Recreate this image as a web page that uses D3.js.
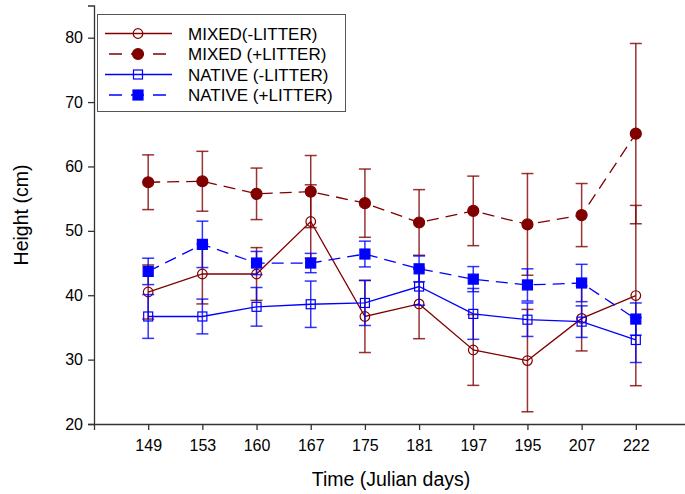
<!DOCTYPE html>
<meta charset='utf-8'>
<style>
  body { margin: 0; background: #fff; }
  text { font-family: "Liberation Sans", Arial, sans-serif; fill: #000; }
  .axis path, .axis line { stroke: #333; stroke-width: 1.3; }
  .axis text { font-size: 16px; }
</style>
<svg width="685" height="494"></svg>
<script src="https://d3js.org/d3.v7.min.js"></script>
<script>

// ---- data ----
var days = ["149", "153", "160", "167", "175", "181", "197", "195", "207", "222"];

var mixedMinus     = [40.5, 43.3, 43.3, 51.45, 36.7, 38.65, 31.5, 29.85, 36.4, 39.95];
var mixedMinusErr  = [4.2, 4.65, 4.1, 5.7, 5.6, 5.4, 5.5, 7.95, 5.05, 14.0];
var mixedPlus      = [57.55, 57.7, 55.75, 56.1, 54.3, 51.3, 53.1, 51.0, 52.45, 65.1];
var mixedPlusErr   = [4.25, 4.65, 4.0, 5.6, 5.3, 5.1, 5.4, 7.9, 4.9, 14.0];
var nativeMinus    = [36.7, 36.7, 38.2, 38.6, 38.8, 41.35, 37.1, 36.2, 35.9, 33.05];
var nativeMinusErr = [3.4, 2.7, 3.0, 3.6, 3.5, 2.9, 3.95, 2.6, 2.45, 3.5];
var nativePlus     = [43.7, 47.9, 45.0, 45.0, 46.4, 44.1, 42.5, 41.6, 41.9, 36.3];
var nativePlusErr  = [2.05, 3.6, 1.8, 1.5, 2.0, 2.0, 1.95, 2.5, 2.9, 2.5];

var yTicks = [20, 30, 40, 50, 60, 70, 80];

var series = [
  {name: "MIXED(-LITTER)",   vals: mixedMinus,  err: mixedMinusErr,  color: "#800000", dash: null,   marker: "circle", filled: false},
  {name: "MIXED (+LITTER)",  vals: mixedPlus,   err: mixedPlusErr,   color: "#800000", dash: "12,7", marker: "circle", filled: true},
  {name: "NATIVE (-LITTER)", vals: nativeMinus, err: nativeMinusErr, color: "#0000ff", dash: null,   marker: "square", filled: false},
  {name: "NATIVE (+LITTER)", vals: nativePlus,  err: nativePlusErr,  color: "#0000ff", dash: "12,7", marker: "square", filled: true}
];

var svg = d3.select("svg");

var x = d3.scalePoint().domain(days).range([94, 690]).padding(1);
var y = d3.scaleLinear().domain([20, 85]).range([424, 5.5]);

// axes
svg.append("g")
  .attr("class", "axis")
  .attr("transform", "translate(0,424)")
  .call(d3.axisBottom(x).tickSizeOuter(0).tickSize(6).tickPadding(10));

svg.append("g")
  .attr("class", "axis")
  .attr("transform", "translate(94,0)")
  .call(d3.axisLeft(y).tickValues(yTicks).tickSizeOuter(0).tickSize(6).tickPadding(5));

// axis titles
svg.append("text")
  .attr("x", 391).attr("y", 486)
  .attr("text-anchor", "middle")
  .style("font-size", "19.5px")
  .text("Time (Julian days)");

svg.append("text")
  .attr("transform", "translate(28,215) rotate(-90)")
  .attr("text-anchor", "middle")
  .style("font-size", "19.5px")
  .text("Height (cm)");

function drawMarker(g, s, cx, cy) {
  if (s.marker === "circle") {
    g.append("circle")
      .attr("cx", cx).attr("cy", cy)
      .attr("r", s.filled ? 5.5 : 4.8)
      .attr("fill", s.filled ? s.color : "none")
      .attr("stroke", s.color)
      .attr("stroke-width", 1.2);
  } else {
    var h = s.filled ? 5 : 4.5;
    g.append("rect")
      .attr("x", cx - h).attr("y", cy - h)
      .attr("width", 2 * h).attr("height", 2 * h)
      .attr("fill", s.filled ? s.color : "none")
      .attr("stroke", s.color)
      .attr("stroke-width", 1.2);
  }
}

var line = d3.line()
  .x(function(d, i) { return x(days[i]); })
  .y(function(d) { return y(d); });

series.forEach(function(s) {
  var g = svg.append("g");

  // error bars
  s.vals.forEach(function(v, i) {
    var cx = x(days[i]), hi = y(v + s.err[i]), lo = y(v - s.err[i]);
    var eb = g.append("g")
      .attr("stroke", s.color)
      .attr("stroke-width", 1.5)
      .attr("stroke-opacity", 0.8);
    eb.append("line").attr("x1", cx).attr("x2", cx).attr("y1", hi).attr("y2", lo);
    eb.append("line").attr("x1", cx - 6).attr("x2", cx + 6).attr("y1", hi).attr("y2", hi);
    eb.append("line").attr("x1", cx - 6).attr("x2", cx + 6).attr("y1", lo).attr("y2", lo);
  });

  g.append("path")
    .attr("d", line(s.vals))
    .attr("fill", "none")
    .attr("stroke", s.color)
    .attr("stroke-width", 1.3)
    .attr("stroke-dasharray", s.dash);

  s.vals.forEach(function(v, i) {
    drawMarker(g, s, x(days[i]), y(v));
  });
});

// legend
var leg = svg.append("g");
leg.append("rect")
  .attr("x", 97.5).attr("y", 14.5)
  .attr("width", 248).attr("height", 97)
  .attr("fill", "#fff")
  .attr("stroke", "#555")
  .attr("stroke-width", 1);

var rowY = [33.5, 54, 74.5, 95];
series.forEach(function(s, i) {
  var ry = rowY[i];
  leg.append("line")
    .attr("x1", 105).attr("x2", 172)
    .attr("y1", ry).attr("y2", ry)
    .attr("stroke", s.color)
    .attr("stroke-width", 1.3)
    .attr("stroke-dasharray", s.dash ? "13,9" : null)
    .attr("stroke-dashoffset", s.dash ? -4 : null);
  drawMarker(leg, s, 138, ry);
  leg.append("text")
    .attr("x", 188).attr("y", ry + 6)
    .style("font-size", "17px")
    .text(s.name);
});

</script>
